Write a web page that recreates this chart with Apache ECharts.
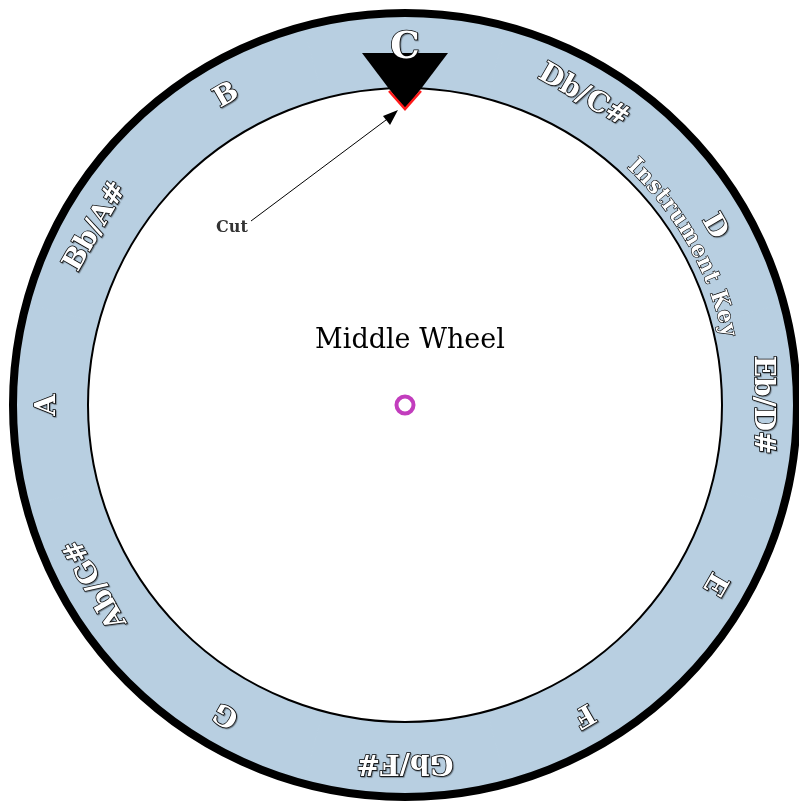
<!DOCTYPE html>
<html>
<head>
<meta charset="utf-8">
<script src="https://cdn.jsdelivr.net/npm/echarts@6/dist/echarts.min.js"></script>
<style>
  html, body { margin: 0; padding: 0; background: #fff; }
  #wheel { width: 799px; height: 801px; }
</style>
</head>
<body>
<div id="wheel"></div>
<script>
// notes round the wheel, clockwise from the top
const notes = ["C", "Db/C#", "D", "Eb/D#", "E", "F", "Gb/F#", "G", "Ab/G#", "A", "Bb/A#", "B"];
const noteShare = [1, 1, 1, 1, 1, 1, 1, 1, 1, 1, 1, 1];
const ringTitle = "Instrument Key";
const wheelTitle = "Middle Wheel";
const cutLabel = "Cut";

const cx = 405, cy = 405;
const serif = "DejaVu Serif";
const ringBlue = "#b8cfe1";

let chart = echarts.init(document.getElementById("wheel"));

// curved "Instrument Key" text, one glyph at a time (slightly condensed)
function arcText(text, r, fromDeg, toDeg, size, squeeze) {
  const ctx = document.createElement("canvas").getContext("2d");
  ctx.font = "bold " + size + "px \"" + serif + "\"";
  const widths = text.split("").map((ch) => ctx.measureText(ch).width * squeeze);
  const total = widths.reduce((a, b) => a + b, 0);
  const arcLen = ((toDeg - fromDeg) * Math.PI / 180) * r;
  const gap = (arcLen - total) / (text.length - 1);
  let pos = 0;
  return text.split("").map((ch, i) => {
    const mid = pos + widths[i] / 2;
    pos += widths[i] + gap;
    const a = fromDeg * Math.PI / 180 + mid / r;
    return {
      type: "text",
      z: 10,
      x: cx + r * Math.sin(a),
      y: cy - r * Math.cos(a),
      rotation: -a,
      scaleX: squeeze,
      style: {
        text: ch,
        fontFamily: serif,
        fontWeight: "bold",
        fontSize: size,
        fill: "#fff",
        stroke: "#000",
        lineWidth: 1.3,
        align: "center",
        verticalAlign: "middle",
      },
    };
  });
}

const labelData = notes.map((name, i) => ({
  name: name,
  value: noteShare[i],
  label: {
    rotate: -i * 30,
    fontSize: i === 0 ? 37 : 28,
  },
}));

const options = {
  animation: false,
  series: [
    {
      // the blue ring
      type: "pie",
      z: 1,
      silent: true,
      center: [cx, cy],
      radius: [317, 390],
      startAngle: 105,
      clockwise: true,
      label: { show: false },
      labelLine: { show: false },
      itemStyle: { color: ringBlue, borderColor: ringBlue, borderWidth: 1 },
      emphasis: { disabled: true },
      data: notes.map((name, i) => ({ name: name, value: noteShare[i] })),
    },
    {
      // note labels on top of the pointer
      type: "pie",
      z: 20,
      silent: true,
      center: [cx, cy],
      radius: [318, 390],
      startAngle: 105,
      clockwise: true,
      avoidLabelOverlap: false,
      itemStyle: { color: "rgba(0,0,0,0)", borderWidth: 0 },
      labelLine: { show: false },
      emphasis: { disabled: true },
      label: {
        show: true,
        position: "inside",
        formatter: "{b}",
        fontFamily: serif,
        fontWeight: "bold",
        color: "#fff",
        textBorderColor: "#000",
        textBorderWidth: 1.5,
        textShadowColor: "rgba(0,0,0,0.35)",
        textShadowBlur: 1,
        textShadowOffsetX: 1,
        textShadowOffsetY: 1,
      },
      data: labelData,
    },
  ],
  graphic: [
    {
      type: "circle",
      z: 5,
      shape: { cx: cx, cy: cy, r: 392 },
      style: { fill: null, stroke: "#000", lineWidth: 8 },
    },
    {
      type: "circle",
      z: 5,
      shape: { cx: cx, cy: cy, r: 317 },
      style: { fill: "#fff", stroke: "#000", lineWidth: 2 },
    },
    {
      // pointer
      type: "polygon",
      z: 6,
      shape: { points: [[362, 53], [448, 53], [405, 110]] },
      style: { fill: "#000" },
    },
    {
      type: "polyline",
      z: 7,
      shape: { points: [[389, 91], [405, 109], [421, 91]] },
      style: { stroke: "#ff1a1a", lineWidth: 2.5, fill: null },
    },
    {
      // arrow to the cut
      type: "line",
      z: 7,
      shape: { x1: 251, y1: 221, x2: 390, y2: 117 },
      style: { stroke: "#000", lineWidth: 1 },
    },
    {
      type: "polygon",
      z: 7,
      shape: { points: [[398, 110], [383, 116], [390, 125]] },
      style: { fill: "#000" },
    },
    {
      type: "text",
      z: 7,
      x: 232,
      y: 228,
      style: {
        text: cutLabel,
        fontFamily: serif,
        fontWeight: "bold",
        fontSize: 16,
        fill: "#333",
        align: "center",
        verticalAlign: "middle",
      },
    },
    {
      type: "text",
      z: 7,
      x: 410,
      y: 341,
      style: {
        text: wheelTitle,
        fontFamily: serif,
        fontSize: 27,
        fill: "#000",
        align: "center",
        verticalAlign: "middle",
      },
    },
    {
      type: "circle",
      z: 7,
      shape: { cx: cx, cy: cy, r: 8.5 },
      style: { fill: null, stroke: "#c23dbd", lineWidth: 4 },
    },
  ].concat(arcText(ringTitle, 331, 43, 78, 23, 0.92)),
};

chart.setOption(options);
</script>
</body>
</html>
